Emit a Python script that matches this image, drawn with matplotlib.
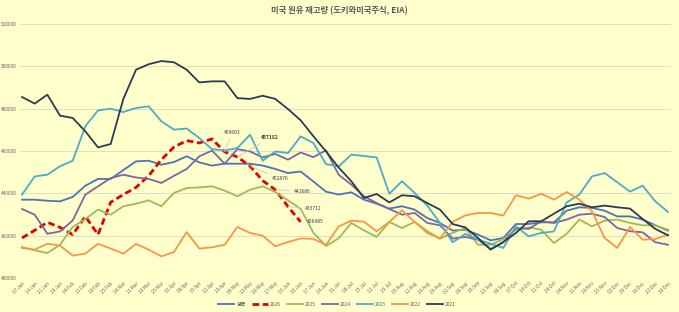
import matplotlib
matplotlib.use("Agg")
import matplotlib.pyplot as plt

plt.rcParams['font.family'] = ['Noto Sans CJK KR', 'DejaVu Sans']

weeks = ['07 Jan', '14 Jan', '21 Jan', '28 Jan', '04 Feb', '11 Feb', '18 Feb', '25 Feb',
         '04 Mar', '11 Mar', '18 Mar', '25 Mar', '01 Apr', '08 Apr', '15 Apr', '22 Apr',
         '29 Apr', '06 May', '13 May', '20 May', '27 May', '03 Jun', '10 Jun', '17 Jun',
         '24 Jun', '01 Jul', '08 Jul', '15 Jul', '22 Jul', '29 Jul', '05 Aug', '12 Aug',
         '19 Aug', '26 Aug', '02 Sep', '09 Sep', '16 Sep', '23 Sep', '30 Sep', '07 Oct',
         '14 Oct', '21 Oct', '28 Oct', '04 Nov', '11 Nov', '18 Nov', '25 Nov', '02 Dec',
         '09 Dec', '16 Dec', '23 Dec', '30 Dec']

avg = [437000, 437000, 436500, 436200, 438300, 443600, 446800, 446800, 451000, 455100,
       455400, 453500, 454800, 457500, 454600, 453100, 454000, 454000, 454000, 453100,
       451500, 449600, 450300, 445600, 440800, 439400, 440500, 437000, 435100, 432800,
       433900, 432300, 428300, 426000, 422400, 422800, 420500, 417800, 418900, 425500,
       425500, 426300, 426300, 431800, 433400, 433100, 431800, 429100, 429100, 427600,
       424900, 422400]

y2026 = [418900, 422500, 426300, 423900, 420500, 429100, 420500, 435800, 439400, 442800,
         448300, 455900, 461900, 464900, 463800, 465700, 459603, 457182, 452876, 446000,
         441686, 433712, 426485]

y2025 = [414600, 413100, 411800, 415700, 424100, 427900, 432300, 429900, 433900, 435100,
         436700, 433900, 440200, 442500, 442800, 443300, 441300, 438600, 441700, 443300,
         440600, 436700, 432700, 421400, 415100, 418800, 426000, 422500, 419400, 426500,
         423600, 426500, 421300, 418600, 421300, 423600, 415700, 415700, 418400, 422800,
         423900, 422800, 416500, 420900, 427600, 424400, 427100, 427600, 426000, 424900,
         424900, 422800]

y2024 = [432600, 429900, 420900, 422000, 427200, 439400, 443300, 447200, 448800, 447500,
         446800, 444900, 448300, 451500, 457500, 460200, 454000, 460900, 459800, 457000,
         458600, 455900, 459300, 457100, 460300, 448800, 444100, 438600, 435400, 432600,
         429900, 430700, 426000, 424900, 418600, 419400, 418100, 413700, 416900, 423600,
         423200, 426800, 426000, 427600, 429900, 430400, 428800, 423600, 422100, 421600,
         416900, 415700]

y2023 = [439400, 448000, 448800, 452800, 455400, 471700, 479200, 480000, 478400, 480300,
         481100, 474000, 470100, 470600, 466100, 460900, 460200, 461400, 467700, 455400,
         459800, 459000, 466900, 463800, 453800, 452700, 458300, 457600, 457000, 439800,
         445700, 440200, 434200, 426000, 416900, 420800, 418100, 416200, 414200, 424400,
         419700, 421300, 422000, 435700, 439400, 448000, 449600, 445200, 440800, 443600,
         436200, 431200]

y2022 = [414200, 413400, 416200, 415300, 410600, 411500, 416200, 413900, 411500, 416100,
         413400, 410200, 412300, 421700, 413900, 414500, 415700, 424100, 421300, 420000,
         415000, 417000, 418700, 418500, 415600, 424300, 427100, 426600, 422100, 426500,
         432000, 426500, 422100, 418600, 426500, 429600, 430700, 430700, 429500, 439100,
         437500, 439800, 437000, 440600, 437000, 431500, 418900, 414200, 424100, 418100,
         418400, 420500]

y2021 = [485500, 482400, 486600, 476700, 475600, 469300, 461700, 463300, 484600, 498400,
         501000, 502500, 501900, 498400, 492400, 492900, 492900, 485000, 484600, 486100,
         484600, 479800, 474500, 467000, 459800, 452200, 445700, 437800, 439700, 435700,
         439100, 438600, 435400, 432300, 425500, 423900, 418900, 413400, 417000, 421300,
         426800, 426800, 430400, 433900, 435100, 433400, 434200, 433400, 432800, 427900,
         423200, 420200]

# weeks of 2026 carrying a value label
label_weeks = [16, 17, 18, 20, 21, 22]

bg = '#FFFFCC'
fig = plt.figure(figsize=(6.79, 3.12), dpi=100, facecolor=bg)
ax = fig.add_axes([19.5 / 679, 34 / 312, 651 / 679, 254 / 312], facecolor=bg)

x = list(range(len(weeks)))
ax.plot(x, avg, color='#4E72B5', lw=1.3, label='평균')
ax.plot(x[:len(y2026)], y2026, color='#E50000', lw=2.0, ls=(0, (2.4, 1.3)), label='2026')
ax.plot(x, y2025, color='#9BBB59', lw=1.3, label='2025')
ax.plot(x, y2024, color='#8064A2', lw=1.3, label='2024')
ax.plot(x, y2023, color='#4BACC6', lw=1.3, label='2023')
ax.plot(x, y2022, color='#F79646', lw=1.3, label='2022')
ax.plot(x, y2021, color='#2B3A55', lw=1.3, label='2021')

offsets = {16: (5.5, 13.8), 17: (23.7, 13.8), 18: (21.7, -9.2),
           20: (19.4, -0.9), 21: (18.1, -1.4), 22: (10.5, 0)}
for w in label_weeks:
    ax.annotate(str(y2026[w]), (w, y2026[w]), xytext=offsets[w], textcoords='offset points',
                ha='center', va='center', fontsize=3.6, color='#404040',
                fontweight='bold' if w == 17 else 'normal',
                arrowprops=dict(arrowstyle='-', color='#C8C8C8', lw=0.6, shrinkA=1, shrinkB=0))

ax.set_xlim(-0.2, 51.2)
ax.set_ylim(400000, 520000)
ax.set_yticks(range(400000, 520001, 20000))
ax.set_yticklabels([str(v) for v in range(400000, 520001, 20000)])
ax.set_xticks(x)
ax.set_xticklabels(weeks, rotation=45, ha='right', rotation_mode='anchor')
ax.tick_params(axis='y', length=0, labelsize=3.4, labelcolor='#666666', pad=2)
ax.tick_params(axis='x', length=0, labelsize=3.4, labelcolor='#666666', pad=2)
ax.grid(axis='y', color='#D9D9C6', lw=0.6)
ax.set_axisbelow(True)
for s in ax.spines.values():
    s.set_visible(False)

fig.text(0.5, 1 - 11 / 312, '미국 원유 재고량 (도키와미국주식, EIA)', ha='center', va='center',
         fontsize=6.0, fontweight='bold', color='#595959')

fig.legend(loc='center', bbox_to_anchor=(337 / 679, 1 - 304 / 312), ncol=7, frameon=False,
           fontsize=3.6, handlelength=3.2, handletextpad=0.4, columnspacing=1.2,
           labelcolor='#595959')

fig.savefig('out.png', dpi=100, facecolor=bg)
